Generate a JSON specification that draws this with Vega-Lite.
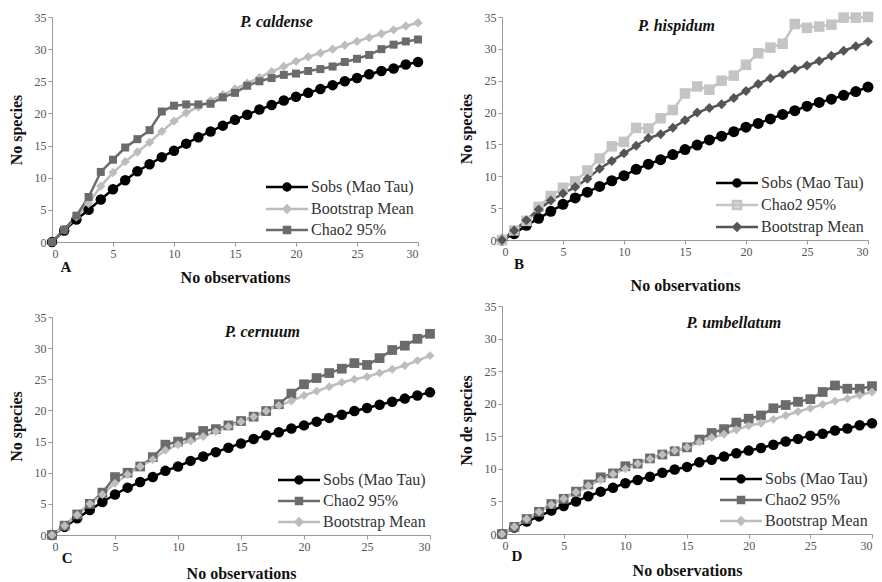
{
"$schema":"https://vega.github.io/schema/vega-lite/v6.json",
"background":"white",
"padding":{"left":8,"top":11,"right":4,"bottom":0},
"datasets":{"d":[
{"p":"A","s":"Sobs (Mao Tau)","x":0,"y":0},{"p":"A","s":"Sobs (Mao Tau)","x":1,"y":1.8},{"p":"A","s":"Sobs (Mao Tau)","x":2,"y":3.5},{"p":"A","s":"Sobs (Mao Tau)","x":3,"y":5},{"p":"A","s":"Sobs (Mao Tau)","x":4,"y":6.6},{"p":"A","s":"Sobs (Mao Tau)","x":5,"y":8.2},{"p":"A","s":"Sobs (Mao Tau)","x":6,"y":9.6},{"p":"A","s":"Sobs (Mao Tau)","x":7,"y":11},{"p":"A","s":"Sobs (Mao Tau)","x":8,"y":12.1},{"p":"A","s":"Sobs (Mao Tau)","x":9,"y":13.2},{"p":"A","s":"Sobs (Mao Tau)","x":10,"y":14.2},{"p":"A","s":"Sobs (Mao Tau)","x":11,"y":15.3},{"p":"A","s":"Sobs (Mao Tau)","x":12,"y":16.3},{"p":"A","s":"Sobs (Mao Tau)","x":13,"y":17.2},{"p":"A","s":"Sobs (Mao Tau)","x":14,"y":18.1},{"p":"A","s":"Sobs (Mao Tau)","x":15,"y":19},{"p":"A","s":"Sobs (Mao Tau)","x":16,"y":19.8},{"p":"A","s":"Sobs (Mao Tau)","x":17,"y":20.6},{"p":"A","s":"Sobs (Mao Tau)","x":18,"y":21.3},{"p":"A","s":"Sobs (Mao Tau)","x":19,"y":22},{"p":"A","s":"Sobs (Mao Tau)","x":20,"y":22.6},{"p":"A","s":"Sobs (Mao Tau)","x":21,"y":23.2},{"p":"A","s":"Sobs (Mao Tau)","x":22,"y":23.8},{"p":"A","s":"Sobs (Mao Tau)","x":23,"y":24.4},{"p":"A","s":"Sobs (Mao Tau)","x":24,"y":25},{"p":"A","s":"Sobs (Mao Tau)","x":25,"y":25.5},{"p":"A","s":"Sobs (Mao Tau)","x":26,"y":26.1},{"p":"A","s":"Sobs (Mao Tau)","x":27,"y":26.6},{"p":"A","s":"Sobs (Mao Tau)","x":28,"y":27},{"p":"A","s":"Sobs (Mao Tau)","x":29,"y":27.6},{"p":"A","s":"Sobs (Mao Tau)","x":30,"y":28},
{"p":"A","s":"Bootstrap Mean","x":0,"y":0},{"p":"A","s":"Bootstrap Mean","x":1,"y":1.9},{"p":"A","s":"Bootstrap Mean","x":2,"y":3.9},{"p":"A","s":"Bootstrap Mean","x":3,"y":6},{"p":"A","s":"Bootstrap Mean","x":4,"y":8.7},{"p":"A","s":"Bootstrap Mean","x":5,"y":10.8},{"p":"A","s":"Bootstrap Mean","x":6,"y":12.5},{"p":"A","s":"Bootstrap Mean","x":7,"y":14},{"p":"A","s":"Bootstrap Mean","x":8,"y":15.5},{"p":"A","s":"Bootstrap Mean","x":9,"y":17.2},{"p":"A","s":"Bootstrap Mean","x":10,"y":18.8},{"p":"A","s":"Bootstrap Mean","x":11,"y":20.1},{"p":"A","s":"Bootstrap Mean","x":12,"y":21},{"p":"A","s":"Bootstrap Mean","x":13,"y":22},{"p":"A","s":"Bootstrap Mean","x":14,"y":22.9},{"p":"A","s":"Bootstrap Mean","x":15,"y":23.8},{"p":"A","s":"Bootstrap Mean","x":16,"y":24.7},{"p":"A","s":"Bootstrap Mean","x":17,"y":25.6},{"p":"A","s":"Bootstrap Mean","x":18,"y":26.5},{"p":"A","s":"Bootstrap Mean","x":19,"y":27.3},{"p":"A","s":"Bootstrap Mean","x":20,"y":28.1},{"p":"A","s":"Bootstrap Mean","x":21,"y":28.8},{"p":"A","s":"Bootstrap Mean","x":22,"y":29.4},{"p":"A","s":"Bootstrap Mean","x":23,"y":30},{"p":"A","s":"Bootstrap Mean","x":24,"y":30.6},{"p":"A","s":"Bootstrap Mean","x":25,"y":31.2},{"p":"A","s":"Bootstrap Mean","x":26,"y":31.8},{"p":"A","s":"Bootstrap Mean","x":27,"y":32.4},{"p":"A","s":"Bootstrap Mean","x":28,"y":33},{"p":"A","s":"Bootstrap Mean","x":29,"y":33.6},{"p":"A","s":"Bootstrap Mean","x":30,"y":34.1},
{"p":"A","s":"Chao2 95%","x":0,"y":0},{"p":"A","s":"Chao2 95%","x":1,"y":1.9},{"p":"A","s":"Chao2 95%","x":2,"y":4.1},{"p":"A","s":"Chao2 95%","x":3,"y":7},{"p":"A","s":"Chao2 95%","x":4,"y":10.9},{"p":"A","s":"Chao2 95%","x":5,"y":12.8},{"p":"A","s":"Chao2 95%","x":6,"y":14.7},{"p":"A","s":"Chao2 95%","x":7,"y":16},{"p":"A","s":"Chao2 95%","x":8,"y":17.4},{"p":"A","s":"Chao2 95%","x":9,"y":20.3},{"p":"A","s":"Chao2 95%","x":10,"y":21.2},{"p":"A","s":"Chao2 95%","x":11,"y":21.4},{"p":"A","s":"Chao2 95%","x":12,"y":21.4},{"p":"A","s":"Chao2 95%","x":13,"y":21.5},{"p":"A","s":"Chao2 95%","x":14,"y":22.5},{"p":"A","s":"Chao2 95%","x":15,"y":23.2},{"p":"A","s":"Chao2 95%","x":16,"y":24.3},{"p":"A","s":"Chao2 95%","x":17,"y":25},{"p":"A","s":"Chao2 95%","x":18,"y":25.5},{"p":"A","s":"Chao2 95%","x":19,"y":26},{"p":"A","s":"Chao2 95%","x":20,"y":26.2},{"p":"A","s":"Chao2 95%","x":21,"y":26.6},{"p":"A","s":"Chao2 95%","x":22,"y":26.9},{"p":"A","s":"Chao2 95%","x":23,"y":27.3},{"p":"A","s":"Chao2 95%","x":24,"y":28},{"p":"A","s":"Chao2 95%","x":25,"y":28.5},{"p":"A","s":"Chao2 95%","x":26,"y":29.1},{"p":"A","s":"Chao2 95%","x":27,"y":30},{"p":"A","s":"Chao2 95%","x":28,"y":30.7},{"p":"A","s":"Chao2 95%","x":29,"y":31.2},{"p":"A","s":"Chao2 95%","x":30,"y":31.5},
{"p":"B","s":"Sobs (Mao Tau)","x":0,"y":0},{"p":"B","s":"Sobs (Mao Tau)","x":1,"y":1},{"p":"B","s":"Sobs (Mao Tau)","x":2,"y":2.3},{"p":"B","s":"Sobs (Mao Tau)","x":3,"y":3.4},{"p":"B","s":"Sobs (Mao Tau)","x":4,"y":4.5},{"p":"B","s":"Sobs (Mao Tau)","x":5,"y":5.6},{"p":"B","s":"Sobs (Mao Tau)","x":6,"y":6.6},{"p":"B","s":"Sobs (Mao Tau)","x":7,"y":7.5},{"p":"B","s":"Sobs (Mao Tau)","x":8,"y":8.4},{"p":"B","s":"Sobs (Mao Tau)","x":9,"y":9.3},{"p":"B","s":"Sobs (Mao Tau)","x":10,"y":10.1},{"p":"B","s":"Sobs (Mao Tau)","x":11,"y":11.1},{"p":"B","s":"Sobs (Mao Tau)","x":12,"y":11.9},{"p":"B","s":"Sobs (Mao Tau)","x":13,"y":12.6},{"p":"B","s":"Sobs (Mao Tau)","x":14,"y":13.4},{"p":"B","s":"Sobs (Mao Tau)","x":15,"y":14.2},{"p":"B","s":"Sobs (Mao Tau)","x":16,"y":14.9},{"p":"B","s":"Sobs (Mao Tau)","x":17,"y":15.7},{"p":"B","s":"Sobs (Mao Tau)","x":18,"y":16.3},{"p":"B","s":"Sobs (Mao Tau)","x":19,"y":17},{"p":"B","s":"Sobs (Mao Tau)","x":20,"y":17.7},{"p":"B","s":"Sobs (Mao Tau)","x":21,"y":18.3},{"p":"B","s":"Sobs (Mao Tau)","x":22,"y":19},{"p":"B","s":"Sobs (Mao Tau)","x":23,"y":19.7},{"p":"B","s":"Sobs (Mao Tau)","x":24,"y":20.3},{"p":"B","s":"Sobs (Mao Tau)","x":25,"y":21},{"p":"B","s":"Sobs (Mao Tau)","x":26,"y":21.6},{"p":"B","s":"Sobs (Mao Tau)","x":27,"y":22.1},{"p":"B","s":"Sobs (Mao Tau)","x":28,"y":22.7},{"p":"B","s":"Sobs (Mao Tau)","x":29,"y":23.3},{"p":"B","s":"Sobs (Mao Tau)","x":30,"y":24},
{"p":"B","s":"Chao2 95%","x":0,"y":0},{"p":"B","s":"Chao2 95%","x":1,"y":1.5},{"p":"B","s":"Chao2 95%","x":2,"y":3},{"p":"B","s":"Chao2 95%","x":3,"y":5.2},{"p":"B","s":"Chao2 95%","x":4,"y":6.9},{"p":"B","s":"Chao2 95%","x":5,"y":8.2},{"p":"B","s":"Chao2 95%","x":6,"y":9.2},{"p":"B","s":"Chao2 95%","x":7,"y":10.9},{"p":"B","s":"Chao2 95%","x":8,"y":12.8},{"p":"B","s":"Chao2 95%","x":9,"y":14.7},{"p":"B","s":"Chao2 95%","x":10,"y":15.4},{"p":"B","s":"Chao2 95%","x":11,"y":17.6},{"p":"B","s":"Chao2 95%","x":12,"y":17.5},{"p":"B","s":"Chao2 95%","x":13,"y":19.1},{"p":"B","s":"Chao2 95%","x":14,"y":20.4},{"p":"B","s":"Chao2 95%","x":15,"y":23},{"p":"B","s":"Chao2 95%","x":16,"y":24.1},{"p":"B","s":"Chao2 95%","x":17,"y":23.6},{"p":"B","s":"Chao2 95%","x":18,"y":25},{"p":"B","s":"Chao2 95%","x":19,"y":25.8},{"p":"B","s":"Chao2 95%","x":20,"y":27.5},{"p":"B","s":"Chao2 95%","x":21,"y":29.3},{"p":"B","s":"Chao2 95%","x":22,"y":30.2},{"p":"B","s":"Chao2 95%","x":23,"y":30.8},{"p":"B","s":"Chao2 95%","x":24,"y":33.9},{"p":"B","s":"Chao2 95%","x":25,"y":33.3},{"p":"B","s":"Chao2 95%","x":26,"y":33.5},{"p":"B","s":"Chao2 95%","x":27,"y":33.8},{"p":"B","s":"Chao2 95%","x":28,"y":34.9},{"p":"B","s":"Chao2 95%","x":29,"y":34.9},{"p":"B","s":"Chao2 95%","x":30,"y":35},
{"p":"B","s":"Bootstrap Mean","x":0,"y":0},{"p":"B","s":"Bootstrap Mean","x":1,"y":1.5},{"p":"B","s":"Bootstrap Mean","x":2,"y":3.1},{"p":"B","s":"Bootstrap Mean","x":3,"y":4.8},{"p":"B","s":"Bootstrap Mean","x":4,"y":6.2},{"p":"B","s":"Bootstrap Mean","x":5,"y":7.3},{"p":"B","s":"Bootstrap Mean","x":6,"y":8.3},{"p":"B","s":"Bootstrap Mean","x":7,"y":9.6},{"p":"B","s":"Bootstrap Mean","x":8,"y":11.2},{"p":"B","s":"Bootstrap Mean","x":9,"y":12.4},{"p":"B","s":"Bootstrap Mean","x":10,"y":13.6},{"p":"B","s":"Bootstrap Mean","x":11,"y":14.8},{"p":"B","s":"Bootstrap Mean","x":12,"y":16},{"p":"B","s":"Bootstrap Mean","x":13,"y":16.6},{"p":"B","s":"Bootstrap Mean","x":14,"y":17.6},{"p":"B","s":"Bootstrap Mean","x":15,"y":18.8},{"p":"B","s":"Bootstrap Mean","x":16,"y":20},{"p":"B","s":"Bootstrap Mean","x":17,"y":20.7},{"p":"B","s":"Bootstrap Mean","x":18,"y":21.3},{"p":"B","s":"Bootstrap Mean","x":19,"y":22.3},{"p":"B","s":"Bootstrap Mean","x":20,"y":23.4},{"p":"B","s":"Bootstrap Mean","x":21,"y":24.5},{"p":"B","s":"Bootstrap Mean","x":22,"y":25.4},{"p":"B","s":"Bootstrap Mean","x":23,"y":26},{"p":"B","s":"Bootstrap Mean","x":24,"y":26.8},{"p":"B","s":"Bootstrap Mean","x":25,"y":27.4},{"p":"B","s":"Bootstrap Mean","x":26,"y":28.1},{"p":"B","s":"Bootstrap Mean","x":27,"y":28.9},{"p":"B","s":"Bootstrap Mean","x":28,"y":29.7},{"p":"B","s":"Bootstrap Mean","x":29,"y":30.4},{"p":"B","s":"Bootstrap Mean","x":30,"y":31.1},
{"p":"C","s":"Sobs (Mao Tau)","x":0,"y":0},{"p":"C","s":"Sobs (Mao Tau)","x":1,"y":1.3},{"p":"C","s":"Sobs (Mao Tau)","x":2,"y":2.7},{"p":"C","s":"Sobs (Mao Tau)","x":3,"y":4},{"p":"C","s":"Sobs (Mao Tau)","x":4,"y":5.3},{"p":"C","s":"Sobs (Mao Tau)","x":5,"y":6.5},{"p":"C","s":"Sobs (Mao Tau)","x":6,"y":7.6},{"p":"C","s":"Sobs (Mao Tau)","x":7,"y":8.5},{"p":"C","s":"Sobs (Mao Tau)","x":8,"y":9.3},{"p":"C","s":"Sobs (Mao Tau)","x":9,"y":10.3},{"p":"C","s":"Sobs (Mao Tau)","x":10,"y":11},{"p":"C","s":"Sobs (Mao Tau)","x":11,"y":11.9},{"p":"C","s":"Sobs (Mao Tau)","x":12,"y":12.6},{"p":"C","s":"Sobs (Mao Tau)","x":13,"y":13.3},{"p":"C","s":"Sobs (Mao Tau)","x":14,"y":14},{"p":"C","s":"Sobs (Mao Tau)","x":15,"y":14.7},{"p":"C","s":"Sobs (Mao Tau)","x":16,"y":15.4},{"p":"C","s":"Sobs (Mao Tau)","x":17,"y":16},{"p":"C","s":"Sobs (Mao Tau)","x":18,"y":16.5},{"p":"C","s":"Sobs (Mao Tau)","x":19,"y":17.1},{"p":"C","s":"Sobs (Mao Tau)","x":20,"y":17.6},{"p":"C","s":"Sobs (Mao Tau)","x":21,"y":18.2},{"p":"C","s":"Sobs (Mao Tau)","x":22,"y":18.8},{"p":"C","s":"Sobs (Mao Tau)","x":23,"y":19.3},{"p":"C","s":"Sobs (Mao Tau)","x":24,"y":19.9},{"p":"C","s":"Sobs (Mao Tau)","x":25,"y":20.4},{"p":"C","s":"Sobs (Mao Tau)","x":26,"y":20.9},{"p":"C","s":"Sobs (Mao Tau)","x":27,"y":21.4},{"p":"C","s":"Sobs (Mao Tau)","x":28,"y":21.9},{"p":"C","s":"Sobs (Mao Tau)","x":29,"y":22.4},{"p":"C","s":"Sobs (Mao Tau)","x":30,"y":22.9},
{"p":"C","s":"Chao2 95%","x":0,"y":0},{"p":"C","s":"Chao2 95%","x":1,"y":1.5},{"p":"C","s":"Chao2 95%","x":2,"y":3.3},{"p":"C","s":"Chao2 95%","x":3,"y":5},{"p":"C","s":"Chao2 95%","x":4,"y":6.8},{"p":"C","s":"Chao2 95%","x":5,"y":9.3},{"p":"C","s":"Chao2 95%","x":6,"y":10},{"p":"C","s":"Chao2 95%","x":7,"y":11},{"p":"C","s":"Chao2 95%","x":8,"y":12.5},{"p":"C","s":"Chao2 95%","x":9,"y":14.5},{"p":"C","s":"Chao2 95%","x":10,"y":15},{"p":"C","s":"Chao2 95%","x":11,"y":15.7},{"p":"C","s":"Chao2 95%","x":12,"y":16.7},{"p":"C","s":"Chao2 95%","x":13,"y":17},{"p":"C","s":"Chao2 95%","x":14,"y":17.6},{"p":"C","s":"Chao2 95%","x":15,"y":18.3},{"p":"C","s":"Chao2 95%","x":16,"y":19},{"p":"C","s":"Chao2 95%","x":17,"y":19.9},{"p":"C","s":"Chao2 95%","x":18,"y":21},{"p":"C","s":"Chao2 95%","x":19,"y":22.7},{"p":"C","s":"Chao2 95%","x":20,"y":24.2},{"p":"C","s":"Chao2 95%","x":21,"y":25.2},{"p":"C","s":"Chao2 95%","x":22,"y":26},{"p":"C","s":"Chao2 95%","x":23,"y":26.7},{"p":"C","s":"Chao2 95%","x":24,"y":27.6},{"p":"C","s":"Chao2 95%","x":25,"y":27.3},{"p":"C","s":"Chao2 95%","x":26,"y":28.4},{"p":"C","s":"Chao2 95%","x":27,"y":29.7},{"p":"C","s":"Chao2 95%","x":28,"y":30.4},{"p":"C","s":"Chao2 95%","x":29,"y":31.5},{"p":"C","s":"Chao2 95%","x":30,"y":32.3},
{"p":"C","s":"Bootstrap Mean","x":0,"y":0},{"p":"C","s":"Bootstrap Mean","x":1,"y":1.5},{"p":"C","s":"Bootstrap Mean","x":2,"y":3.2},{"p":"C","s":"Bootstrap Mean","x":3,"y":5},{"p":"C","s":"Bootstrap Mean","x":4,"y":6.5},{"p":"C","s":"Bootstrap Mean","x":5,"y":8.3},{"p":"C","s":"Bootstrap Mean","x":6,"y":9.7},{"p":"C","s":"Bootstrap Mean","x":7,"y":11},{"p":"C","s":"Bootstrap Mean","x":8,"y":12.1},{"p":"C","s":"Bootstrap Mean","x":9,"y":13.6},{"p":"C","s":"Bootstrap Mean","x":10,"y":14.5},{"p":"C","s":"Bootstrap Mean","x":11,"y":15.1},{"p":"C","s":"Bootstrap Mean","x":12,"y":15.8},{"p":"C","s":"Bootstrap Mean","x":13,"y":16.6},{"p":"C","s":"Bootstrap Mean","x":14,"y":17.4},{"p":"C","s":"Bootstrap Mean","x":15,"y":18.2},{"p":"C","s":"Bootstrap Mean","x":16,"y":19},{"p":"C","s":"Bootstrap Mean","x":17,"y":19.9},{"p":"C","s":"Bootstrap Mean","x":18,"y":20.8},{"p":"C","s":"Bootstrap Mean","x":19,"y":21.5},{"p":"C","s":"Bootstrap Mean","x":20,"y":22.4},{"p":"C","s":"Bootstrap Mean","x":21,"y":23.1},{"p":"C","s":"Bootstrap Mean","x":22,"y":23.8},{"p":"C","s":"Bootstrap Mean","x":23,"y":24.5},{"p":"C","s":"Bootstrap Mean","x":24,"y":25},{"p":"C","s":"Bootstrap Mean","x":25,"y":25.4},{"p":"C","s":"Bootstrap Mean","x":26,"y":26},{"p":"C","s":"Bootstrap Mean","x":27,"y":26.6},{"p":"C","s":"Bootstrap Mean","x":28,"y":27.2},{"p":"C","s":"Bootstrap Mean","x":29,"y":28},{"p":"C","s":"Bootstrap Mean","x":30,"y":28.8},
{"p":"D","s":"Sobs (Mao Tau)","x":0,"y":0},{"p":"D","s":"Sobs (Mao Tau)","x":1,"y":1},{"p":"D","s":"Sobs (Mao Tau)","x":2,"y":1.9},{"p":"D","s":"Sobs (Mao Tau)","x":3,"y":2.7},{"p":"D","s":"Sobs (Mao Tau)","x":4,"y":3.6},{"p":"D","s":"Sobs (Mao Tau)","x":5,"y":4.3},{"p":"D","s":"Sobs (Mao Tau)","x":6,"y":5},{"p":"D","s":"Sobs (Mao Tau)","x":7,"y":5.8},{"p":"D","s":"Sobs (Mao Tau)","x":8,"y":6.5},{"p":"D","s":"Sobs (Mao Tau)","x":9,"y":7.1},{"p":"D","s":"Sobs (Mao Tau)","x":10,"y":7.8},{"p":"D","s":"Sobs (Mao Tau)","x":11,"y":8.3},{"p":"D","s":"Sobs (Mao Tau)","x":12,"y":8.8},{"p":"D","s":"Sobs (Mao Tau)","x":13,"y":9.4},{"p":"D","s":"Sobs (Mao Tau)","x":14,"y":9.9},{"p":"D","s":"Sobs (Mao Tau)","x":15,"y":10.3},{"p":"D","s":"Sobs (Mao Tau)","x":16,"y":11},{"p":"D","s":"Sobs (Mao Tau)","x":17,"y":11.4},{"p":"D","s":"Sobs (Mao Tau)","x":18,"y":11.9},{"p":"D","s":"Sobs (Mao Tau)","x":19,"y":12.4},{"p":"D","s":"Sobs (Mao Tau)","x":20,"y":12.8},{"p":"D","s":"Sobs (Mao Tau)","x":21,"y":13.2},{"p":"D","s":"Sobs (Mao Tau)","x":22,"y":13.7},{"p":"D","s":"Sobs (Mao Tau)","x":23,"y":14.2},{"p":"D","s":"Sobs (Mao Tau)","x":24,"y":14.6},{"p":"D","s":"Sobs (Mao Tau)","x":25,"y":15.1},{"p":"D","s":"Sobs (Mao Tau)","x":26,"y":15.4},{"p":"D","s":"Sobs (Mao Tau)","x":27,"y":15.9},{"p":"D","s":"Sobs (Mao Tau)","x":28,"y":16.2},{"p":"D","s":"Sobs (Mao Tau)","x":29,"y":16.7},{"p":"D","s":"Sobs (Mao Tau)","x":30,"y":17},
{"p":"D","s":"Chao2 95%","x":0,"y":0},{"p":"D","s":"Chao2 95%","x":1,"y":1.1},{"p":"D","s":"Chao2 95%","x":2,"y":2.3},{"p":"D","s":"Chao2 95%","x":3,"y":3.4},{"p":"D","s":"Chao2 95%","x":4,"y":4.6},{"p":"D","s":"Chao2 95%","x":5,"y":5.4},{"p":"D","s":"Chao2 95%","x":6,"y":6.5},{"p":"D","s":"Chao2 95%","x":7,"y":7.6},{"p":"D","s":"Chao2 95%","x":8,"y":8.7},{"p":"D","s":"Chao2 95%","x":9,"y":9.3},{"p":"D","s":"Chao2 95%","x":10,"y":10.4},{"p":"D","s":"Chao2 95%","x":11,"y":10.8},{"p":"D","s":"Chao2 95%","x":12,"y":11.6},{"p":"D","s":"Chao2 95%","x":13,"y":12.2},{"p":"D","s":"Chao2 95%","x":14,"y":12.7},{"p":"D","s":"Chao2 95%","x":15,"y":13.3},{"p":"D","s":"Chao2 95%","x":16,"y":14.5},{"p":"D","s":"Chao2 95%","x":17,"y":15.5},{"p":"D","s":"Chao2 95%","x":18,"y":16.1},{"p":"D","s":"Chao2 95%","x":19,"y":17.1},{"p":"D","s":"Chao2 95%","x":20,"y":17.7},{"p":"D","s":"Chao2 95%","x":21,"y":18.2},{"p":"D","s":"Chao2 95%","x":22,"y":19.3},{"p":"D","s":"Chao2 95%","x":23,"y":19.8},{"p":"D","s":"Chao2 95%","x":24,"y":20.3},{"p":"D","s":"Chao2 95%","x":25,"y":20.7},{"p":"D","s":"Chao2 95%","x":26,"y":21.8},{"p":"D","s":"Chao2 95%","x":27,"y":22.8},{"p":"D","s":"Chao2 95%","x":28,"y":22.3},{"p":"D","s":"Chao2 95%","x":29,"y":22.3},{"p":"D","s":"Chao2 95%","x":30,"y":22.7},
{"p":"D","s":"Bootstrap Mean","x":0,"y":0},{"p":"D","s":"Bootstrap Mean","x":1,"y":1.1},{"p":"D","s":"Bootstrap Mean","x":2,"y":2.3},{"p":"D","s":"Bootstrap Mean","x":3,"y":3.4},{"p":"D","s":"Bootstrap Mean","x":4,"y":4.5},{"p":"D","s":"Bootstrap Mean","x":5,"y":5.4},{"p":"D","s":"Bootstrap Mean","x":6,"y":6.4},{"p":"D","s":"Bootstrap Mean","x":7,"y":7.4},{"p":"D","s":"Bootstrap Mean","x":8,"y":8.3},{"p":"D","s":"Bootstrap Mean","x":9,"y":9.2},{"p":"D","s":"Bootstrap Mean","x":10,"y":10},{"p":"D","s":"Bootstrap Mean","x":11,"y":10.8},{"p":"D","s":"Bootstrap Mean","x":12,"y":11.5},{"p":"D","s":"Bootstrap Mean","x":13,"y":12.2},{"p":"D","s":"Bootstrap Mean","x":14,"y":12.8},{"p":"D","s":"Bootstrap Mean","x":15,"y":13.3},{"p":"D","s":"Bootstrap Mean","x":16,"y":14.1},{"p":"D","s":"Bootstrap Mean","x":17,"y":14.8},{"p":"D","s":"Bootstrap Mean","x":18,"y":15.3},{"p":"D","s":"Bootstrap Mean","x":19,"y":16},{"p":"D","s":"Bootstrap Mean","x":20,"y":16.6},{"p":"D","s":"Bootstrap Mean","x":21,"y":17},{"p":"D","s":"Bootstrap Mean","x":22,"y":17.6},{"p":"D","s":"Bootstrap Mean","x":23,"y":18.2},{"p":"D","s":"Bootstrap Mean","x":24,"y":18.8},{"p":"D","s":"Bootstrap Mean","x":25,"y":19.3},{"p":"D","s":"Bootstrap Mean","x":26,"y":19.9},{"p":"D","s":"Bootstrap Mean","x":27,"y":20.4},{"p":"D","s":"Bootstrap Mean","x":28,"y":20.8},{"p":"D","s":"Bootstrap Mean","x":29,"y":21.3},{"p":"D","s":"Bootstrap Mean","x":30,"y":21.8}
]},
"data":{"name":"d"},
"spacing":22,
"resolve":{"scale":{"color":"independent","shape":"independent","size":"independent"},"legend":{"color":"independent"}},
"hconcat":[
{"vconcat":[
{"width":366,"height":225,
"resolve":{"scale":{"color":"independent","shape":"independent","size":"independent"},"legend":{"color":"independent"}},
"layer":[
{"transform":[{"filter":"datum.p==='A'"}],"mark":{"type":"line","strokeWidth":2.5},
"encoding":{"x":{"field":"x","type":"quantitative","scale":{"domain":[0,30],"nice":false},"axis":{"values":[0,5,10,15,20,25,30],"title":"No observations","titlePadding":10}},
"y":{"field":"y","type":"quantitative","scale":{"domain":[0,35],"nice":false},"axis":{"values":[0,5,10,15,20,25,30,35],"title":"No species","titlePadding":10}},
"color":{"field":"s","type":"nominal","scale":{"domain":["Sobs (Mao Tau)","Bootstrap Mean","Chao2 95%"],"range":["#000000","#bdbdbd","#6b6b6b"]},
"legend":{"title":null,"orient":"bottom-right","offset":4,"symbolSize":100,"labelOffset":31,"rowPadding":4,
"encode":{"symbols":{"update":{"shape":{"signal":"datum.value==='Sobs (Mao Tau)'?'M-6,0H36M11.5,0A3.5,3.5,0,1,0,18.5,0A3.5,3.5,0,1,0,11.5,0Z':datum.value==='Bootstrap Mean'?'M-6,0H36M15,-3.5L18.5,0L15,3.5L11.5,0Z':'M-6,0H36M12,-3H18V3H12Z'"},"size":{"value":4},"fill":{"signal":"datum.value==='Sobs (Mao Tau)'?'#000000':datum.value==='Bootstrap Mean'?'#bdbdbd':'#6b6b6b'"},"stroke":{"signal":"datum.value==='Sobs (Mao Tau)'?'#000000':datum.value==='Bootstrap Mean'?'#bdbdbd':'#6b6b6b'"},"strokeWidth":{"value":2.5},"opacity":{"value":1}}}}}}}},
{"transform":[{"filter":"datum.p==='A'"}],"mark":{"type":"point","filled":true,"opacity":1},
"encoding":{"x":{"field":"x","type":"quantitative","scale":{"domain":[0,30],"nice":false},"axis":{"values":[0,5,10,15,20,25,30],"title":"No observations","titlePadding":10}},
"y":{"field":"y","type":"quantitative","scale":{"domain":[0,35],"nice":false},"axis":{"values":[0,5,10,15,20,25,30,35],"title":"No species","titlePadding":10}},
"color":{"field":"s","type":"nominal","scale":{"domain":["Sobs (Mao Tau)","Bootstrap Mean","Chao2 95%"],"range":["#000000","#bdbdbd","#6b6b6b"]}},
"shape":{"field":"s","type":"nominal","scale":{"domain":["Sobs (Mao Tau)","Bootstrap Mean","Chao2 95%"],"range":["circle","diamond","square"]},"legend":null},
"size":{"field":"s","type":"nominal","scale":{"domain":["Sobs (Mao Tau)","Bootstrap Mean","Chao2 95%"],"range":[110,64,72]},"legend":null}}},
{"data":{"values":[{}]},"mark":{"type":"text","font":"Liberation Serif","fontStyle":"italic","fontWeight":"bold","fontSize":16,"color":"#111"},"encoding":{"x":{"datum":18.4,"type":"quantitative","axis":{"values":[0,5,10,15,20,25,30],"title":"No observations","titlePadding":10}},"y":{"datum":34.2,"type":"quantitative","axis":{"values":[0,5,10,15,20,25,30,35],"title":"No species","titlePadding":10}},"text":{"value":"P. caldense"}}},
{"data":{"values":[{}]},"mark":{"type":"text","font":"Liberation Serif","fontWeight":"bold","fontSize":15,"color":"#111"},"encoding":{"x":{"datum":1.15,"type":"quantitative","axis":{"values":[0,5,10,15,20,25,30],"title":"No observations","titlePadding":10}},"y":{"datum":-3.9,"type":"quantitative","axis":{"values":[0,5,10,15,20,25,30,35],"title":"No species","titlePadding":10}},"text":{"value":"A"}}}
]},
{"width":378,"height":218,
"resolve":{"scale":{"color":"independent","shape":"independent","size":"independent"},"legend":{"color":"independent"}},
"layer":[
{"transform":[{"filter":"datum.p==='C'"}],"mark":{"type":"line","strokeWidth":2.5},
"encoding":{"x":{"field":"x","type":"quantitative","scale":{"domain":[0,30],"nice":false},"axis":{"values":[0,5,10,15,20,25,30],"title":"No observations","titlePadding":13}},
"y":{"field":"y","type":"quantitative","scale":{"domain":[0,35],"nice":false},"axis":{"values":[0,5,10,15,20,25,30,35],"title":"No species","titlePadding":10}},
"color":{"field":"s","type":"nominal","scale":{"domain":["Sobs (Mao Tau)","Chao2 95%","Bootstrap Mean"],"range":["#000000","#6b6b6b","#bdbdbd"]},
"legend":{"title":null,"orient":"bottom-right","offset":4,"symbolSize":100,"labelOffset":31,"rowPadding":4,
"encode":{"symbols":{"update":{"shape":{"signal":"datum.value==='Sobs (Mao Tau)'?'M-6,0H36M11.5,0A3.5,3.5,0,1,0,18.5,0A3.5,3.5,0,1,0,11.5,0Z':datum.value==='Bootstrap Mean'?'M-6,0H36M15,-3.5L18.5,0L15,3.5L11.5,0Z':'M-6,0H36M12,-3H18V3H12Z'"},"size":{"value":4},"fill":{"signal":"datum.value==='Sobs (Mao Tau)'?'#000000':datum.value==='Bootstrap Mean'?'#bdbdbd':'#6b6b6b'"},"stroke":{"signal":"datum.value==='Sobs (Mao Tau)'?'#000000':datum.value==='Bootstrap Mean'?'#bdbdbd':'#6b6b6b'"},"strokeWidth":{"value":2.5},"opacity":{"value":1}}}}}}}},
{"transform":[{"filter":"datum.p==='C'"}],"mark":{"type":"point","filled":true,"opacity":1},
"encoding":{"x":{"field":"x","type":"quantitative","scale":{"domain":[0,30],"nice":false},"axis":{"values":[0,5,10,15,20,25,30],"title":"No observations","titlePadding":13}},
"y":{"field":"y","type":"quantitative","scale":{"domain":[0,35],"nice":false},"axis":{"values":[0,5,10,15,20,25,30,35],"title":"No species","titlePadding":10}},
"color":{"field":"s","type":"nominal","scale":{"domain":["Sobs (Mao Tau)","Chao2 95%","Bootstrap Mean"],"range":["#000000","#6b6b6b","#bdbdbd"]}},
"shape":{"field":"s","type":"nominal","scale":{"domain":["Sobs (Mao Tau)","Chao2 95%","Bootstrap Mean"],"range":["circle","square","diamond"]},"legend":null},
"size":{"field":"s","type":"nominal","scale":{"domain":["Sobs (Mao Tau)","Chao2 95%","Bootstrap Mean"],"range":[110,80,64]},"legend":null}}},
{"data":{"values":[{}]},"mark":{"type":"text","font":"Liberation Serif","fontStyle":"italic","fontWeight":"bold","fontSize":16,"color":"#111"},"encoding":{"x":{"datum":16.7,"type":"quantitative","axis":{"values":[0,5,10,15,20,25,30],"title":"No observations","titlePadding":13}},"y":{"datum":32.6,"type":"quantitative","axis":{"values":[0,5,10,15,20,25,30,35],"title":"No species","titlePadding":10}},"text":{"value":"P. cernuum"}}},
{"data":{"values":[{}]},"mark":{"type":"text","font":"Liberation Serif","fontWeight":"bold","fontSize":15,"color":"#111"},"encoding":{"x":{"datum":1.2,"type":"quantitative","axis":{"values":[0,5,10,15,20,25,30],"title":"No observations","titlePadding":13}},"y":{"datum":-3.7,"type":"quantitative","axis":{"values":[0,5,10,15,20,25,30,35],"title":"No species","titlePadding":10}},"text":{"value":"C"}}}
]}
],"spacing":26},
{"vconcat":[
{"width":366,"height":223,
"resolve":{"scale":{"color":"independent","shape":"independent","size":"independent"},"legend":{"color":"independent"}},
"layer":[
{"transform":[{"filter":"datum.p==='B'"}],"mark":{"type":"line","strokeWidth":2.5},
"encoding":{"x":{"field":"x","type":"quantitative","scale":{"domain":[0,30],"nice":false},"axis":{"values":[0,5,10,15,20,25,30],"title":"No observations","titlePadding":20}},
"y":{"field":"y","type":"quantitative","scale":{"domain":[0,35],"nice":false},"axis":{"values":[0,5,10,15,20,25,30,35],"title":"No species","titlePadding":10}},
"color":{"field":"s","type":"nominal","scale":{"domain":["Sobs (Mao Tau)","Chao2 95%","Bootstrap Mean"],"range":["#000000","#c4c4c4","#555555"]},
"legend":{"title":null,"orient":"bottom-right","offset":4,"symbolSize":100,"labelOffset":31,"rowPadding":4,
"encode":{"symbols":{"update":{"shape":{"signal":"datum.value==='Sobs (Mao Tau)'?'M-6,0H36M11.5,0A3.5,3.5,0,1,0,18.5,0A3.5,3.5,0,1,0,11.5,0Z':datum.value==='Bootstrap Mean'?'M-6,0H36M15,-3.5L18.5,0L15,3.5L11.5,0Z':'M-6,0H36M11,-4H19V4H11Z'"},"size":{"value":4},"fill":{"signal":"datum.value==='Sobs (Mao Tau)'?'#000000':datum.value==='Bootstrap Mean'?'#555555':'#dcdcdc'"},"stroke":{"signal":"datum.value==='Sobs (Mao Tau)'?'#000000':datum.value==='Bootstrap Mean'?'#555555':'#c4c4c4'"},"strokeWidth":{"value":2.5},"opacity":{"value":1}}}}}}}},
{"transform":[{"filter":"datum.p==='B'"}],"mark":{"type":"point","filled":true,"opacity":1},
"encoding":{"x":{"field":"x","type":"quantitative","scale":{"domain":[0,30],"nice":false},"axis":{"values":[0,5,10,15,20,25,30],"title":"No observations","titlePadding":20}},
"y":{"field":"y","type":"quantitative","scale":{"domain":[0,35],"nice":false},"axis":{"values":[0,5,10,15,20,25,30,35],"title":"No species","titlePadding":10}},
"color":{"field":"s","type":"nominal","scale":{"domain":["Sobs (Mao Tau)","Chao2 95%","Bootstrap Mean"],"range":["#000000","#c4c4c4","#555555"]}},
"shape":{"field":"s","type":"nominal","scale":{"domain":["Sobs (Mao Tau)","Chao2 95%","Bootstrap Mean"],"range":["circle","square","diamond"]},"legend":null},
"size":{"field":"s","type":"nominal","scale":{"domain":["Sobs (Mao Tau)","Chao2 95%","Bootstrap Mean"],"range":[121,100,60]},"legend":null}}},
{"data":{"values":[{}]},"mark":{"type":"text","font":"Liberation Serif","fontStyle":"italic","fontWeight":"bold","fontSize":16,"color":"#111"},"encoding":{"x":{"datum":14.3,"type":"quantitative","axis":{"values":[0,5,10,15,20,25,30],"title":"No observations","titlePadding":20}},"y":{"datum":33.6,"type":"quantitative","axis":{"values":[0,5,10,15,20,25,30,35],"title":"No species","titlePadding":10}},"text":{"value":"P. hispidum"}}},
{"data":{"values":[{}]},"mark":{"type":"text","font":"Liberation Serif","fontWeight":"bold","fontSize":15,"color":"#111"},"encoding":{"x":{"datum":1.4,"type":"quantitative","axis":{"values":[0,5,10,15,20,25,30],"title":"No observations","titlePadding":20}},"y":{"datum":-3.8,"type":"quantitative","axis":{"values":[0,5,10,15,20,25,30,35],"title":"No species","titlePadding":10}},"text":{"value":"B"}}}
]},
{"width":370,"height":228,
"resolve":{"scale":{"color":"independent","shape":"independent","size":"independent"},"legend":{"color":"independent"}},
"layer":[
{"transform":[{"filter":"datum.p==='D'"}],"mark":{"type":"line","strokeWidth":2.5},
"encoding":{"x":{"field":"x","type":"quantitative","scale":{"domain":[0,30],"nice":false},"axis":{"values":[0,5,10,15,20,25,30],"title":"No observations","titlePadding":11}},
"y":{"field":"y","type":"quantitative","scale":{"domain":[0,35],"nice":false},"axis":{"values":[0,5,10,15,20,25,30,35],"title":"No de species","titlePadding":10}},
"color":{"field":"s","type":"nominal","scale":{"domain":["Sobs (Mao Tau)","Chao2 95%","Bootstrap Mean"],"range":["#000000","#6b6b6b","#bdbdbd"]},
"legend":{"title":null,"orient":"bottom-right","offset":4,"symbolSize":100,"labelOffset":31,"rowPadding":4,
"encode":{"symbols":{"update":{"shape":{"signal":"datum.value==='Sobs (Mao Tau)'?'M-6,0H36M11.5,0A3.5,3.5,0,1,0,18.5,0A3.5,3.5,0,1,0,11.5,0Z':datum.value==='Bootstrap Mean'?'M-6,0H36M15,-3.5L18.5,0L15,3.5L11.5,0Z':'M-6,0H36M12,-3H18V3H12Z'"},"size":{"value":4},"fill":{"signal":"datum.value==='Sobs (Mao Tau)'?'#000000':datum.value==='Bootstrap Mean'?'#bdbdbd':'#6b6b6b'"},"stroke":{"signal":"datum.value==='Sobs (Mao Tau)'?'#000000':datum.value==='Bootstrap Mean'?'#bdbdbd':'#6b6b6b'"},"strokeWidth":{"value":2.5},"opacity":{"value":1}}}}}}}},
{"transform":[{"filter":"datum.p==='D'"}],"mark":{"type":"point","filled":true,"opacity":1},
"encoding":{"x":{"field":"x","type":"quantitative","scale":{"domain":[0,30],"nice":false},"axis":{"values":[0,5,10,15,20,25,30],"title":"No observations","titlePadding":11}},
"y":{"field":"y","type":"quantitative","scale":{"domain":[0,35],"nice":false},"axis":{"values":[0,5,10,15,20,25,30,35],"title":"No de species","titlePadding":10}},
"color":{"field":"s","type":"nominal","scale":{"domain":["Sobs (Mao Tau)","Chao2 95%","Bootstrap Mean"],"range":["#000000","#6b6b6b","#bdbdbd"]}},
"shape":{"field":"s","type":"nominal","scale":{"domain":["Sobs (Mao Tau)","Chao2 95%","Bootstrap Mean"],"range":["circle","square","diamond"]},"legend":null},
"size":{"field":"s","type":"nominal","scale":{"domain":["Sobs (Mao Tau)","Chao2 95%","Bootstrap Mean"],"range":[110,80,64]},"legend":null}}},
{"data":{"values":[{}]},"mark":{"type":"text","font":"Liberation Serif","fontStyle":"italic","fontWeight":"bold","fontSize":16,"color":"#111"},"encoding":{"x":{"datum":18.8,"type":"quantitative","axis":{"values":[0,5,10,15,20,25,30],"title":"No observations","titlePadding":11}},"y":{"datum":32.4,"type":"quantitative","axis":{"values":[0,5,10,15,20,25,30,35],"title":"No de species","titlePadding":10}},"text":{"value":"P. umbellatum"}}},
{"data":{"values":[{}]},"mark":{"type":"text","font":"Liberation Serif","fontWeight":"bold","fontSize":15,"color":"#111"},"encoding":{"x":{"datum":1.2,"type":"quantitative","axis":{"values":[0,5,10,15,20,25,30],"title":"No observations","titlePadding":11}},"y":{"datum":-3.4,"type":"quantitative","axis":{"values":[0,5,10,15,20,25,30,35],"title":"No de species","titlePadding":10}},"text":{"value":"D"}}}
]}
],"spacing":7}
],
"config":{
"view":{"stroke":null},
"axis":{"grid":false,"labelFont":"Liberation Serif","labelFontSize":12,"labelColor":"#555555","titleFont":"Liberation Serif","titleFontSize":16,"titleFontWeight":"bold","titleColor":"#111111","domainColor":"#9a9a9a","tickColor":"#9a9a9a","tickSize":4,"labelOverlap":false},
"legend":{"labelFont":"Liberation Serif","labelFontSize":16,"labelColor":"#333333"}
}
}
